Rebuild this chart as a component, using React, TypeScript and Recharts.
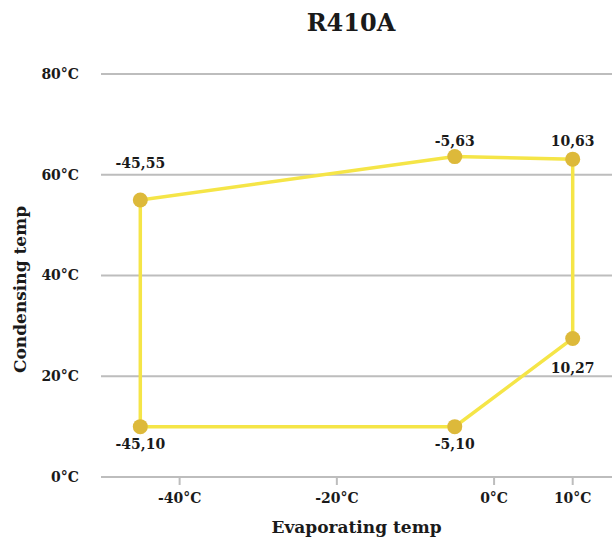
import { LineChart, Line, XAxis, YAxis, CartesianGrid } from "recharts";

// envelope of the operating range, closed back to the first point
const evaporating = [-45, -45, -5, 10, 10, -5, -45];
const condensing = [10, 55, 63.6, 63.1, 27.5, 10, 10];
const pointLabels = ["-45,10", "-45,55", "-5,63", "10,63", "10,27", "-5,10"];

const xTicks = [-40, -20, 0, 10];
const yTicks = [0, 20, 40, 60, 80];

// vertical shift of each point label from its dot (px)
const labelShift = [17, -37, -16, -18, 29, 17];

const data = evaporating.map((x, i) => ({ x, y: condensing[i] }));

const FONT = "'DejaVu Serif', serif";
const GRID = "#BDBDBD";

const deg = (v: number) => `${v}°C`;

function PointDot(props: any) {
  const { cx, cy, index } = props;
  if (index >= pointLabels.length) return <g key={`d${index}`} />;
  return (
    <g key={`d${index}`}>
      <circle cx={cx} cy={cy} r={7.5} fill="#DDB93A" />
      <text
        x={cx}
        y={cy + labelShift[index]}
        dy="0.36em"
        textAnchor="middle"
        fontFamily={FONT}
        fontWeight="bold"
        fontSize={14}
        fill="#1a1a1a"
      >
        {pointLabels[index]}
      </text>
    </g>
  );
}

export default function App() {
  const tick = {
    fontFamily: FONT,
    fontWeight: "bold",
    fontSize: 14,
    fill: "#1a1a1a",
  };

  return (
    <div
      style={{
        position: "absolute",
        left: 0,
        top: 0,
        width: 612,
        height: 541,
        background: "#fff",
      }}
    >
      <div
        style={{
          position: "absolute",
          left: 0,
          top: 8,
          width: 702,
          textAlign: "center",
          fontFamily: FONT,
          fontWeight: "bold",
          fontSize: 24,
          color: "#1a1a1a",
        }}
      >
        R410A
      </div>
      <LineChart
        width={612}
        height={541}
        data={data}
        margin={{ top: 74, right: 0, bottom: 0, left: 0 }}
      >
        <CartesianGrid vertical={false} stroke={GRID} strokeWidth={2} />
        <XAxis
          dataKey="x"
          type="number"
          domain={[-50, 15]}
          ticks={xTicks}
          tickFormatter={deg}
          height={64}
          tick={tick}
          axisLine={{ stroke: GRID, strokeWidth: 2 }}
          tickLine={{ stroke: GRID, strokeWidth: 2 }}
          tickSize={8}
          tickMargin={8}
          label={{
            value: "Evaporating temp",
            position: "insideBottom",
            offset: 8,
            style: {
              fontFamily: FONT,
              fontWeight: "bold",
              fontSize: 17,
              fill: "#1a1a1a",
            },
          }}
        />
        <YAxis
          dataKey="y"
          type="number"
          domain={[0, 80]}
          ticks={yTicks}
          tickFormatter={deg}
          width={101}
          tick={tick}
          axisLine={false}
          tickLine={false}
          tickSize={0}
          tickMargin={22}
          label={{
            value: "Condensing temp",
            angle: -90,
            position: "insideLeft",
            offset: 20,
            dy: 14,
            style: {
              fontFamily: FONT,
              fontWeight: "bold",
              fontSize: 17,
              fill: "#1a1a1a",
              textAnchor: "middle",
            },
          }}
        />
        <Line
          dataKey="y"
          type="linear"
          stroke="#F5E547"
          strokeWidth={3.5}
          dot={PointDot}
          activeDot={false}
          isAnimationActive={false}
        />
      </LineChart>
    </div>
  );
}
